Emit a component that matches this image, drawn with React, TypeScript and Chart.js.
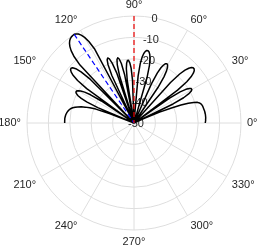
import React, { useEffect, useRef } from 'react';
import { Chart, registerables } from 'chart.js';

Chart.register(...registerables);

// Array pattern in dB, one value per degree from 0° to 180° (-50 = null)
const PATTERN_DB: number[] = [
  // 0-9
  -16.7, -16.6, -16.5, -16.5, -16.4, -16.4, -16.4, -16.4, -16.5, -16.5,
  // 10-19
  -16.6, -16.7, -16.8, -16.9, -17.0, -17.2, -17.5, -18.0, -18.8, -20.5,
  // 20-29
  -23.0, -26.5, -31.5, -37.0, -45.0, -50, -29.7, -24.0, -21.1, -19.5,
  // 30-39
  -18.8, -18.8, -19.5, -21.1, -24.0, -29.7, -50, -24.5, -18.7, -15.7,
  // 40-49
  -13.8, -12.7, -12.2, -12.2, -12.7, -13.8, -15.7, -18.7, -24.5, -50,
  // 50-59
  -50, -50, -50, -50, -50, -50, -30.0, -24.3, -21.3, -19.6,
  // 60-69
  -18.6, -18.3, -18.6, -19.6, -21.3, -24.3, -30.0, -50, -50, -50,
  // 70-79
  -50, -50, -50, -50, -27.9, -22.1, -19.1, -17.2, -16.1, -15.6,
  // 80-89
  -15.6, -16.1, -17.2, -19.1, -22.1, -27.9, -50, -50, -50, -50,
  // 90-99
  -50, -50, -29.8, -24.3, -21.8, -20.6, -20.6, -21.8, -24.3, -29.8,
  // 100-109
  -50, -26.9, -21.6, -19.3, -18.6, -19.3, -21.6, -26.9, -50, -25.5,
  // 110-119
  -20.2, -17.9, -17.2, -17.9, -20.2, -25.5, -50, -50, -11.0, -6.5,
  // 120-129
  -3.8, -2.1, -1.0, -0.35, 0, -0.1, -0.25, -0.6, -1.2, -2.1,
  // 130-139
  -3.4, -5.2, -8.0, -13.0, -50, -21.2, -15.6, -12.8, -11.4, -11.0,
  // 140-149
  -11.3, -12.25, -14.0, -17.0, -22.7, -50, -31.6, -25.8, -22.8, -20.9,
  // 150-159
  -19.8, -19.25, -19.25, -19.8, -20.9, -22.8, -25.8, -31.6, -50, -38.0,
  // 160-169
  -31.0, -28.2, -26.0, -24.2, -22.7, -21.5, -20.5, -19.8, -19.3, -18.9,
  // 170-180
  -18.6, -18.3, -18.1, -17.9, -17.8, -17.7, -17.6, -17.6, -17.6, -17.6, -17.6,
];

const THETA_TICKS: number[] = [0, 30, 60, 90, 120, 150, 180, 210, 240, 270, 300, 330];
const R_TICKS: number[] = [-50, -40, -30, -20, -10, 0];
const R_MIN = -50;
const R_MAX = 0;
const STEER_ANGLE = 124;
const BROADSIDE_ANGLE = 90;
const R_LABEL_ANGLE = 80;

const TEXT_COLOR = '#262626';
const GRID_COLOR = '#dedede';
const FONT = "11px 'Liberation Sans', Arial, Helvetica, sans-serif";

const N_SPOKES = 360;
// radar index i runs clockwise from the top; convert a math angle (deg, CCW from east)
const indexOf = (deg: number) => (((90 - deg) % 360) + 360) % 360;

const rTickPlugin = {
  id: 'rTicks',
  beforeDatasetsDraw(chart: any) {
    const scale = chart.scales.r;
    const ctx = chart.ctx;
    ctx.save();
    ctx.font = FONT;
    ctx.fillStyle = TEXT_COLOR;
    ctx.textAlign = 'center';
    ctx.textBaseline = 'middle';
    R_TICKS.forEach((v) => {
      const d = scale.getDistanceFromCenterForValue(v);
      const p = scale.getPointPosition(indexOf(R_LABEL_ANGLE), d);
      ctx.fillText(String(v), p.x + 2, p.y + 1);
    });
    ctx.restore();
  },
};

const thetaTickPlugin = {
  id: 'thetaTicks',
  afterDraw(chart: any) {
    const scale = chart.scales.r;
    const ctx = chart.ctx;
    ctx.save();
    ctx.font = FONT;
    ctx.fillStyle = TEXT_COLOR;
    const dist = scale.drawingArea + 6;
    THETA_TICKS.forEach((deg) => {
      const p = scale.getPointPosition(indexOf(deg), dist);
      const rad = (deg * Math.PI) / 180;
      const c = Math.cos(rad);
      const s = Math.sin(rad);
      ctx.textAlign = c > 0.05 ? 'left' : c < -0.05 ? 'right' : 'center';
      ctx.textBaseline = s > 0.05 ? 'bottom' : s < -0.05 ? 'top' : 'middle';
      ctx.fillText(deg + '°', p.x, p.y);
    });
    ctx.restore();
  },
};

export default function App() {
  const ref = useRef<HTMLCanvasElement | null>(null);

  useEffect(() => {
    if (!ref.current) return;
    const labels = Array.from({ length: N_SPOKES }, (_, i) => indexOf(i));

    const pattern: (number | null)[] = new Array(N_SPOKES).fill(null);
    PATTERN_DB.forEach((v, deg) => {
      pattern[indexOf(deg)] = v;
    });

    const broadside: (number | null)[] = new Array(N_SPOKES).fill(null);
    broadside[indexOf(BROADSIDE_ANGLE)] = R_MAX;
    broadside[indexOf(BROADSIDE_ANGLE - 1)] = R_MIN;

    const steer: (number | null)[] = new Array(N_SPOKES).fill(null);
    steer[indexOf(STEER_ANGLE)] = R_MAX;
    steer[indexOf(STEER_ANGLE - 1)] = R_MIN;

    const chart = new Chart(ref.current, {
      type: 'radar',
      data: {
        labels,
        datasets: [
          {
            data: broadside,
            borderColor: 'rgb(235,0,0)',
            borderWidth: 1.2,
            borderDash: [5, 3],
            pointRadius: 0,
            fill: false,
            spanGaps: false,
          },
          {
            data: steer,
            borderColor: 'rgb(0,0,255)',
            borderWidth: 1.2,
            borderDash: [5, 3],
            pointRadius: 0,
            fill: false,
            spanGaps: false,
          },
          {
            data: pattern,
            borderColor: '#000000',
            borderWidth: 1.5,
            borderJoinStyle: 'round',
            pointRadius: 0,
            fill: false,
            tension: 0,
            spanGaps: false,
          },
        ],
      },
      options: {
        animation: false,
        responsive: false,
        devicePixelRatio: 1,
        events: [],
        layout: { padding: { left: 27, right: 17, top: 16, bottom: 17 } },
        plugins: { legend: { display: false }, tooltip: { enabled: false } },
        elements: { line: { tension: 0 } },
        scales: {
          r: {
            min: R_MIN,
            max: R_MAX,
            startAngle: 0,
            ticks: { display: false, stepSize: 10 },
            pointLabels: { display: false },
            grid: { circular: true, color: GRID_COLOR, lineWidth: 1 },
            angleLines: {
              display: true,
              color: GRID_COLOR,
              lineWidth: (c: any) => (THETA_TICKS.includes(labels[c.index]) ? 1 : 0),
            },
          },
        },
      },
      plugins: [rTickPlugin, thetaTickPlugin],
    });
    return () => chart.destroy();
  }, []);

  return (
    <div style={{ position: 'fixed', left: 0, top: 0, width: 258, height: 248, background: '#fff' }}>
      <canvas ref={ref} width={258} height={248} style={{ width: 258, height: 248 }} />
    </div>
  );
}
